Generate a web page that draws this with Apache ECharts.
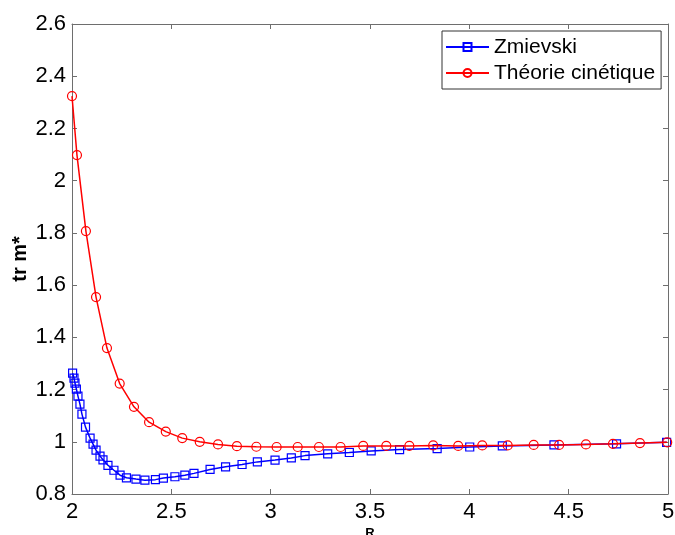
<!DOCTYPE html>
<html>
<head>
<meta charset="utf-8">
<script src="https://cdn.jsdelivr.net/npm/echarts@6/dist/echarts.min.js"></script>
<style>html,body{margin:0;padding:0;background:#fff}#c{width:675px;height:535px}</style>
</head>
<body>
<div id="c"></div>
<script>
var seriesNames = ['Zmievski', 'Théorie cinétique'];
var xTicks = [2, 2.5, 3, 3.5, 4, 4.5, 5];
var yTicks = [0.8, 1, 1.2, 1.4, 1.6, 1.8, 2, 2.2, 2.4, 2.6];

var zmievskiR = [2.003, 2.010, 2.015, 2.022, 2.030, 2.040, 2.050, 2.068, 2.091, 2.106, 2.121, 2.141, 2.156, 2.181, 2.211, 2.242, 2.274, 2.322, 2.367, 2.420, 2.460, 2.518, 2.568, 2.614, 2.695, 2.773, 2.856, 2.933, 3.022, 3.104, 3.173, 3.287, 3.396, 3.506, 3.649, 3.838, 4.002, 4.166, 4.426, 4.741, 4.993];
var zmievskiM = [1.263, 1.244, 1.225, 1.202, 1.175, 1.144, 1.106, 1.056, 1.014, 0.991, 0.968, 0.945, 0.931, 0.910, 0.891, 0.872, 0.862, 0.857, 0.853, 0.855, 0.861, 0.866, 0.872, 0.879, 0.894, 0.904, 0.913, 0.923, 0.930, 0.938, 0.947, 0.954, 0.959, 0.965, 0.970, 0.974, 0.980, 0.984, 0.988, 0.992, 0.998];

var theorieR = [2.000, 2.025, 2.070, 2.121, 2.176, 2.240, 2.312, 2.388, 2.472, 2.555, 2.643, 2.735, 2.830, 2.928, 3.030, 3.136, 3.243, 3.352, 3.466, 3.582, 3.698, 3.818, 3.944, 4.065, 4.193, 4.324, 4.452, 4.587, 4.723, 4.859, 4.996];
var theorieM = [2.324, 2.098, 1.807, 1.554, 1.359, 1.223, 1.134, 1.075, 1.039, 1.014, 1.000, 0.990, 0.983, 0.981, 0.980, 0.980, 0.980, 0.980, 0.984, 0.984, 0.984, 0.986, 0.984, 0.986, 0.986, 0.988, 0.988, 0.990, 0.992, 0.995, 0.998];

function pairs(xs, ys) { return xs.map(function (x, i) { return [x, ys[i]]; }); }

var axisCol = '#6e6e6e';
var font = 'Liberation Sans, Arial, sans-serif';

var chart = echarts.init(document.getElementById('c'), null, { renderer: 'canvas' });
chart.setOption({
  animation: false,
  backgroundColor: '#fff',
  grid: { left: 72, right: 7, top: 24, bottom: 41, containLabel: false, outerBoundsMode: 'none' },
  legend: {
    left: 442, top: 31, orient: 'vertical',
    data: seriesNames,
    borderColor: '#333', borderWidth: 1, padding: [4, 6, 4, 3],
    backgroundColor: '#fff',
    itemWidth: 43, itemHeight: 10, itemGap: 2,
    textStyle: { fontFamily: font, fontSize: 21, color: '#000', lineHeight: 24 }
  },
  xAxis: [{
    type: 'value', min: 2, max: 5, interval: 0.5,
    name: 'R', nameLocation: 'middle', nameGap: 33, nameMoveOverlap: false,
    nameTextStyle: { fontFamily: font, fontSize: 13, fontWeight: 'bold', color: '#000' },
    axisLine: { show: true, lineStyle: { color: axisCol } },
    axisTick: { inside: true, length: 5, lineStyle: { color: axisCol } },
    axisLabel: { fontFamily: font, fontSize: 22, color: '#000', margin: 7,
      formatter: function (v) { return xTicks.indexOf(v) >= 0 ? String(v) : ''; } },
    splitLine: { show: false }
  }, {
    type: 'value', position: 'top', min: 2, max: 5, interval: 0.5,
    axisLine: { show: true, lineStyle: { color: axisCol } },
    axisTick: { inside: true, length: 5, lineStyle: { color: axisCol } },
    axisLabel: { show: false }, splitLine: { show: false }
  }],
  yAxis: [{
    type: 'value', min: 0.8, max: 2.6, interval: 0.2,
    name: 'tr m*', nameLocation: 'middle', nameGap: 42, nameMoveOverlap: false,
    nameTextStyle: { fontFamily: font, fontSize: 20, fontWeight: 'bold', color: '#000' },
    axisLine: { show: true, lineStyle: { color: axisCol } },
    axisTick: { inside: true, length: 5, lineStyle: { color: axisCol } },
    axisLabel: { fontFamily: font, fontSize: 22, color: '#000', margin: 6,
      formatter: function (v) {
        var r = Math.round(v * 10) / 10;
        return yTicks.some(function (t) { return Math.abs(t - r) < 1e-9; }) ? String(r) : '';
      } },
    splitLine: { show: false }
  }, {
    type: 'value', position: 'right', min: 0.8, max: 2.6, interval: 0.2,
    axisLine: { show: true, lineStyle: { color: axisCol } },
    axisTick: { inside: true, length: 5, lineStyle: { color: axisCol } },
    axisLabel: { show: false }, splitLine: { show: false }
  }],
  series: [{
    name: seriesNames[0], type: 'line', xAxisIndex: 0, yAxisIndex: 0,
    data: pairs(zmievskiR, zmievskiM),
    symbol: 'rect', symbolSize: 8,
    lineStyle: { color: '#0000ff', width: 1.5 },
    itemStyle: { color: 'rgba(255,255,255,0)', borderColor: '#0000ff', borderWidth: 1.2 },
    z: 3
  }, {
    name: seriesNames[1], type: 'line', xAxisIndex: 0, yAxisIndex: 0,
    data: pairs(theorieR, theorieM),
    symbol: 'circle', symbolSize: 9,
    lineStyle: { color: '#ff0000', width: 1.5 },
    itemStyle: { color: 'rgba(255,255,255,0)', borderColor: '#ff0000', borderWidth: 1.2 },
    z: 4
  }]
});
</script>
</body>
</html>
